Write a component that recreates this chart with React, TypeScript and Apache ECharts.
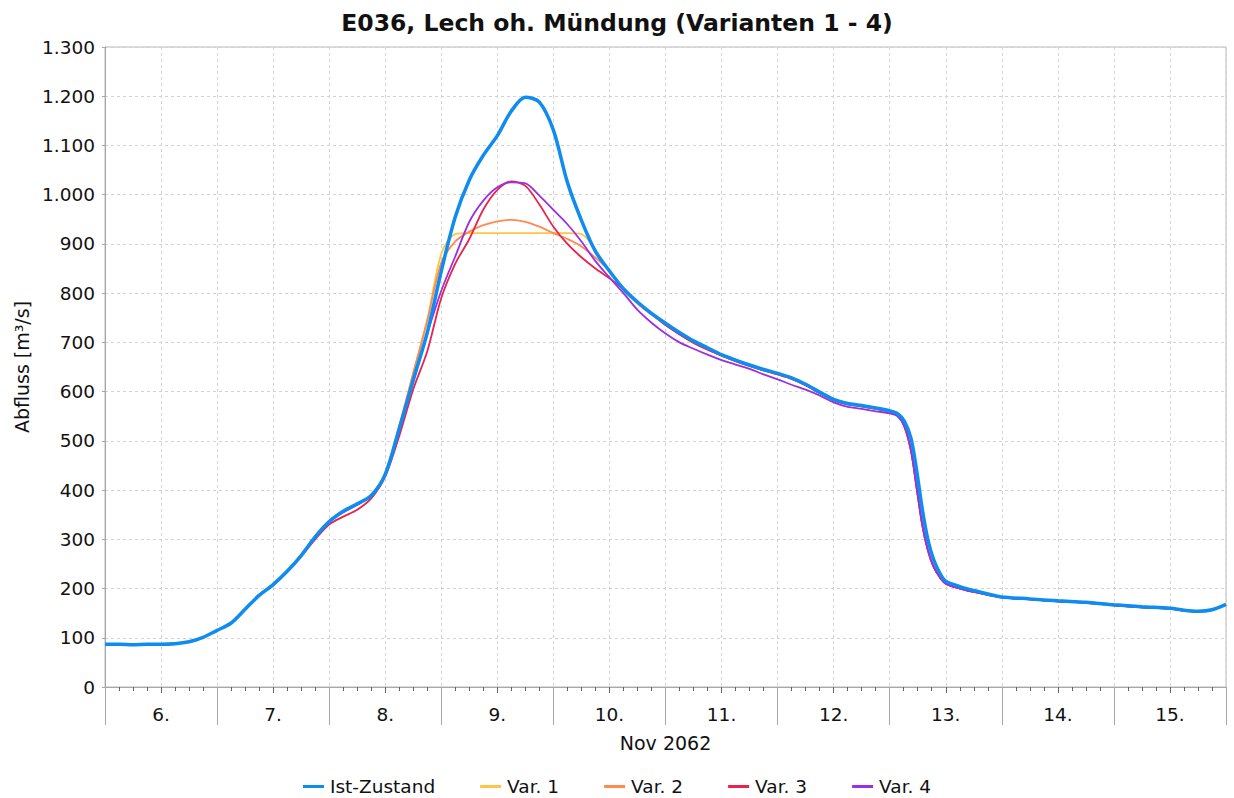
import React, { useEffect, useRef } from "react";
import * as echarts from "echarts";

// time axis in days of November 2062
const TIMES = [
  6.0, 6.125, 6.25, 6.375, 6.5, 6.625, 6.75, 6.875,
  7.0, 7.125, 7.25, 7.375, 7.5, 7.625, 7.75, 7.875,
  8.0, 8.125, 8.25, 8.375, 8.5, 8.625, 8.75, 8.875,
  9.0, 9.125, 9.25, 9.375, 9.5, 9.625, 9.75, 9.875,
  10.0, 10.125, 10.25, 10.375, 10.5, 10.625, 10.75, 10.875,
  11.0, 11.125, 11.25, 11.375, 11.5, 11.625, 11.75, 11.875,
  12.0, 12.125, 12.25, 12.375, 12.5, 12.625, 12.75, 12.875,
  13.0, 13.07, 13.13, 13.19, 13.24, 13.29, 13.34, 13.39, 13.45, 13.5,
  13.625, 13.75, 13.875, 14.0, 14.25, 14.5, 14.75, 15.0, 15.25, 15.5, 15.625, 15.75, 15.875, 16.0,
];

const IST_ZUSTAND = [
  87, 87, 86, 87, 87, 88, 92, 101,
  115, 130, 158, 186, 208, 235, 267, 305,
  336, 357, 372, 389, 432, 525, 624, 720,
  845, 955, 1030, 1080, 1120, 1170, 1198, 1188,
  1131, 1025, 948, 885, 845, 809, 782, 759,
  739, 720, 703, 689, 675, 664, 654, 645,
  637, 628, 615, 599, 584, 576, 572, 567,
  561, 555, 540, 505, 440, 362, 300, 260, 230, 215,
  204, 196, 189, 183, 179, 175, 172, 167, 163, 160, 156, 154, 157, 168,
];

const VAR1 = [
  87, 87, 86, 87, 87, 88, 92, 101,
  115, 130, 158, 187, 209, 236, 268, 306,
  337, 357, 371, 389, 435, 530, 638, 745,
  880, 920, 922, 922, 922, 922, 922, 922,
  922, 922, 920, 888, 845, 807, 780, 757,
  736, 717, 700, 686, 673, 662, 652, 643,
  635, 626, 613, 597, 582, 574, 570, 565,
  559, 552, 530, 480, 405, 330, 278, 245, 222, 210,
  200, 193, 187, 182, 178, 174, 171, 166, 162, 159, 155, 153, 157, 167,
];

const VAR2 = [
  87, 87, 86, 87, 87, 88, 92, 101,
  115, 130, 158, 187, 209, 236, 268, 306,
  337, 357, 371, 389, 435, 530, 638, 745,
  862, 905, 925, 938, 946, 949, 945, 935,
  922, 910, 895, 872, 845, 806, 779, 756,
  736, 717, 700, 686, 673, 662, 652, 643,
  635, 626, 613, 597, 582, 574, 570, 565,
  559, 552, 530, 480, 405, 330, 278, 245, 222, 210,
  200, 193, 187, 182, 178, 174, 171, 166, 162, 159, 155, 153, 157, 167,
];

const VAR3 = [
  87, 87, 86, 87, 87, 88, 92, 101,
  115, 130, 158, 186, 207, 234, 265, 300,
  330, 346, 360, 383, 428, 510, 605, 682,
  790, 860, 910, 970, 1010, 1027, 1018, 980,
  935, 900, 873, 850, 830, 808, 782, 759,
  735, 716, 699, 685, 673, 662, 652, 643,
  635, 626, 613, 597, 582, 574, 570, 565,
  559, 552, 530, 480, 405, 330, 278, 245, 222, 210,
  200, 193, 187, 182, 178, 174, 171, 166, 162, 159, 155, 153, 157, 167,
];

const VAR4 = [
  87, 87, 86, 87, 87, 88, 92, 101,
  115, 130, 158, 187, 209, 236, 268, 306,
  336, 355, 370, 388, 432, 520, 620, 718,
  805, 875, 945, 988, 1015, 1025, 1023, 998,
  969, 940, 905, 865, 832, 800, 766, 740,
  718, 700, 687, 675, 664, 655, 646, 635,
  625, 614, 604, 592, 578, 569, 565, 560,
  556, 550, 530, 480, 405, 330, 278, 245, 222, 210,
  200, 193, 187, 182, 178, 174, 171, 166, 162, 159, 155, 153, 157, 167,
];

const SERIES_NAMES = ["Ist-Zustand", "Var. 1", "Var. 2", "Var. 3", "Var. 4"];
const SERIES_VALUES = [IST_ZUSTAND, VAR1, VAR2, VAR3, VAR4];
const SERIES_COLORS = ["#0f8cf0", "#ffc445", "#ff8a4f", "#e8234d", "#9a30df"];
const SERIES_WIDTHS = [3.5, 1.8, 1.8, 1.8, 1.8];

const TITLE = "E036, Lech oh. Mündung (Varianten 1 - 4)";
const Y_NAME = "Abfluss [m³/s]";
const X_NAME = "Nov 2062";

const FONT = "'DejaVu Sans', 'Liberation Sans', Arial, sans-serif";

function fmtThousands(v: number): string {
  if (v >= 1000) {
    const th = Math.floor(v / 1000);
    const rest = String(v - th * 1000).padStart(3, "0");
    return th + "." + rest;
  }
  return String(v);
}

export default function App() {
  const ref = useRef<HTMLDivElement>(null);

  useEffect(() => {
    document.body.style.margin = "0";
    if (!ref.current) return;
    const chart = echarts.init(ref.current, undefined, { renderer: "svg" });

    const series = SERIES_NAMES.map((name, si) => ({
      name,
      type: "line",
      xAxisIndex: 0,
      yAxisIndex: 0,
      data: TIMES.map((t, i) => [t, SERIES_VALUES[si][i]]),
      showSymbol: false,
      symbol: "none",
      smooth: 0.3,
      z: si === 0 ? 5 : 3,
      lineStyle: { color: SERIES_COLORS[si], width: SERIES_WIDTHS[si] },
      itemStyle: { color: SERIES_COLORS[si] },
    }));

    const gridColor = "#d2d2d2";

    chart.setOption({
      animation: false,
      backgroundColor: "#ffffff",
      title: {
        text: TITLE,
        left: "center",
        top: 6,
        textStyle: { fontFamily: FONT, fontSize: 23.5, fontWeight: "bold", color: "#111" },
      },
      grid: {
        left: 105,
        right: 8,
        top: 47,
        bottom: 111,
        show: true,
        borderColor: "#b8b8b8",
        borderWidth: 1,
      },
      legend: {
        data: SERIES_NAMES.map((n, i) => ({
          name: n,
          icon: "rect",
          itemStyle: { color: SERIES_COLORS[i] },
        })),
        left: 298,
        top: 772,
        itemWidth: 21,
        itemHeight: 3,
        itemGap: 45,
        textStyle: { fontFamily: FONT, fontSize: 18.5, color: "#111", padding: [0, 0, 0, 1] },
      },
      xAxis: [
        {
          type: "value",
          min: 6,
          max: 16,
          interval: 0.5,
          name: X_NAME,
          nameLocation: "middle",
          nameGap: 46,
          nameTextStyle: { fontFamily: FONT, fontSize: 19, color: "#111" },
          axisLine: { show: true, lineStyle: { color: "#a8a8a8", width: 1 } },
          axisTick: { show: true, length: 6, lineStyle: { color: "#666" } },
          minorTick: { show: true, splitNumber: 4, length: 4, lineStyle: { color: "#666" } },
          axisLabel: {
            fontFamily: FONT,
            fontSize: 18.5,
            color: "#111",
            margin: 18,
            formatter: (v: number) => (Math.abs((v % 1) - 0.5) < 1e-6 ? Math.floor(v) + "." : ""),
          },
          splitLine: { show: true, lineStyle: { color: gridColor, type: [3, 3], width: 1 } },
        },
        {
          type: "value",
          min: 6,
          max: 16,
          interval: 1,
          position: "bottom",
          axisLine: { show: false },
          axisTick: { show: true, length: 38, lineStyle: { color: "#a8a8a8" } },
          axisLabel: { show: false },
          splitLine: { show: false },
        },
      ],
      yAxis: {
        type: "value",
        min: 0,
        max: 1300,
        interval: 100,
        name: Y_NAME,
        nameLocation: "middle",
        nameRotate: 90,
        nameGap: 74,
        nameTextStyle: { fontFamily: FONT, fontSize: 19, color: "#111" },
        axisLine: { show: true, lineStyle: { color: "#a8a8a8", width: 1 } },
        axisTick: { show: true, length: 3, lineStyle: { color: "#a8a8a8" } },
        axisLabel: {
          fontFamily: FONT,
          fontSize: 18.5,
          color: "#111",
          margin: 10,
          formatter: (v: number) => fmtThousands(v),
        },
        splitLine: { show: true, lineStyle: { color: gridColor, type: [3, 3], width: 1 } },
      },
      series,
    });

    return () => {
      chart.dispose();
    };
  }, []);

  return <div ref={ref} style={{ width: 1234, height: 798 }} />;
}
